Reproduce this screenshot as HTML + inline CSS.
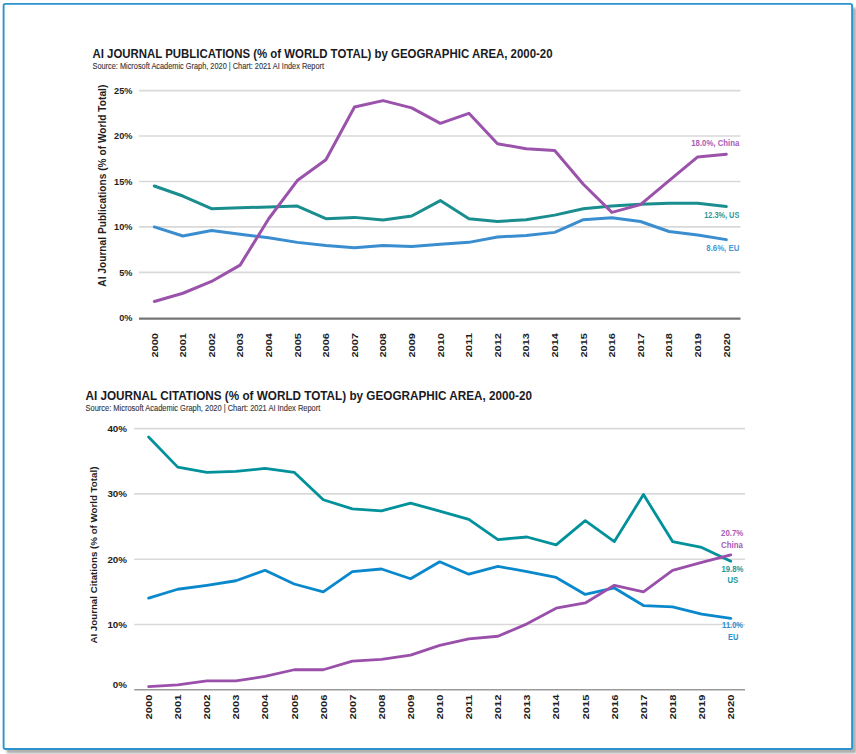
<!DOCTYPE html>
<html><head><meta charset="utf-8"><title>AI Journal Publications and Citations</title>
<style>
html,body{margin:0;padding:0;background:#ffffff;}
body{width:856px;height:754px;overflow:hidden;}
svg{display:block;font-family:"Liberation Sans", sans-serif;}
</style></head><body>
<svg width="856" height="754" viewBox="0 0 856 754">
<defs><filter id="blur" x="-5%" y="-5%" width="110%" height="110%"><feGaussianBlur stdDeviation="1.2"/></filter></defs>
<rect x="6.5" y="7.5" width="850" height="746" rx="2" fill="#b0b0b0" filter="url(#blur)"/>
<rect x="3.6" y="3.9" width="848.5" height="745.1" rx="1.8" fill="#ffffff" stroke="#2c93ce" stroke-width="1.9"/>
<text x="92.5" y="57.7" font-size="13" font-weight="bold" fill="#1a1a24" textLength="460" lengthAdjust="spacingAndGlyphs">AI JOURNAL PUBLICATIONS (% of WORLD TOTAL) by GEOGRAPHIC AREA, 2000-20</text>
<text x="92.5" y="69" font-size="8.9" fill="#34343c" stroke="#34343c" stroke-width="0.12" textLength="231.5" lengthAdjust="spacingAndGlyphs">Source: Microsoft Academic Graph, 2020 | Chart: 2021 AI Index Report</text>
<line x1="139" y1="272.36" x2="740.5" y2="272.36" stroke="#d9d9d9" stroke-width="1.6"/>
<line x1="139" y1="226.92" x2="740.5" y2="226.92" stroke="#d9d9d9" stroke-width="1.6"/>
<line x1="139" y1="181.48" x2="740.5" y2="181.48" stroke="#d9d9d9" stroke-width="1.6"/>
<line x1="139" y1="136.04" x2="740.5" y2="136.04" stroke="#d9d9d9" stroke-width="1.6"/>
<line x1="139" y1="90.60" x2="740.5" y2="90.60" stroke="#d9d9d9" stroke-width="1.6"/>
<line x1="139" y1="318.70" x2="740.5" y2="318.70" stroke="#757575" stroke-width="2.2"/>
<text x="132.5" y="321.11" text-anchor="end" font-size="9.2" font-weight="bold" fill="#1e1e1e">0%</text>
<text x="132.5" y="275.67" text-anchor="end" font-size="9.2" font-weight="bold" fill="#1e1e1e">5%</text>
<text x="132.5" y="230.23" text-anchor="end" font-size="9.2" font-weight="bold" fill="#1e1e1e">10%</text>
<text x="132.5" y="184.79" text-anchor="end" font-size="9.2" font-weight="bold" fill="#1e1e1e">15%</text>
<text x="132.5" y="139.35" text-anchor="end" font-size="9.2" font-weight="bold" fill="#1e1e1e">20%</text>
<text x="132.5" y="93.91" text-anchor="end" font-size="9.2" font-weight="bold" fill="#1e1e1e">25%</text>
<text transform="translate(106,286.7) rotate(-90)" font-size="10" font-weight="bold" fill="#1e1e1e" textLength="202" lengthAdjust="spacingAndGlyphs">AI Journal Publications (% of World Total)</text>
<text transform="translate(157.65,333.00) rotate(-90)" x="0" y="0" text-anchor="end" font-size="9.3" font-weight="bold" fill="#1e1e1e" textLength="24.5" lengthAdjust="spacingAndGlyphs">2000</text>
<text transform="translate(186.25,333.00) rotate(-90)" x="0" y="0" text-anchor="end" font-size="9.3" font-weight="bold" fill="#1e1e1e" textLength="24.5" lengthAdjust="spacingAndGlyphs">2001</text>
<text transform="translate(214.85,333.00) rotate(-90)" x="0" y="0" text-anchor="end" font-size="9.3" font-weight="bold" fill="#1e1e1e" textLength="24.5" lengthAdjust="spacingAndGlyphs">2002</text>
<text transform="translate(243.45,333.00) rotate(-90)" x="0" y="0" text-anchor="end" font-size="9.3" font-weight="bold" fill="#1e1e1e" textLength="24.5" lengthAdjust="spacingAndGlyphs">2003</text>
<text transform="translate(272.05,333.00) rotate(-90)" x="0" y="0" text-anchor="end" font-size="9.3" font-weight="bold" fill="#1e1e1e" textLength="24.5" lengthAdjust="spacingAndGlyphs">2004</text>
<text transform="translate(300.65,333.00) rotate(-90)" x="0" y="0" text-anchor="end" font-size="9.3" font-weight="bold" fill="#1e1e1e" textLength="24.5" lengthAdjust="spacingAndGlyphs">2005</text>
<text transform="translate(329.25,333.00) rotate(-90)" x="0" y="0" text-anchor="end" font-size="9.3" font-weight="bold" fill="#1e1e1e" textLength="24.5" lengthAdjust="spacingAndGlyphs">2006</text>
<text transform="translate(357.85,333.00) rotate(-90)" x="0" y="0" text-anchor="end" font-size="9.3" font-weight="bold" fill="#1e1e1e" textLength="24.5" lengthAdjust="spacingAndGlyphs">2007</text>
<text transform="translate(386.45,333.00) rotate(-90)" x="0" y="0" text-anchor="end" font-size="9.3" font-weight="bold" fill="#1e1e1e" textLength="24.5" lengthAdjust="spacingAndGlyphs">2008</text>
<text transform="translate(415.05,333.00) rotate(-90)" x="0" y="0" text-anchor="end" font-size="9.3" font-weight="bold" fill="#1e1e1e" textLength="24.5" lengthAdjust="spacingAndGlyphs">2009</text>
<text transform="translate(443.65,333.00) rotate(-90)" x="0" y="0" text-anchor="end" font-size="9.3" font-weight="bold" fill="#1e1e1e" textLength="24.5" lengthAdjust="spacingAndGlyphs">2010</text>
<text transform="translate(472.25,333.00) rotate(-90)" x="0" y="0" text-anchor="end" font-size="9.3" font-weight="bold" fill="#1e1e1e" textLength="24.5" lengthAdjust="spacingAndGlyphs">2011</text>
<text transform="translate(500.85,333.00) rotate(-90)" x="0" y="0" text-anchor="end" font-size="9.3" font-weight="bold" fill="#1e1e1e" textLength="24.5" lengthAdjust="spacingAndGlyphs">2012</text>
<text transform="translate(529.45,333.00) rotate(-90)" x="0" y="0" text-anchor="end" font-size="9.3" font-weight="bold" fill="#1e1e1e" textLength="24.5" lengthAdjust="spacingAndGlyphs">2013</text>
<text transform="translate(558.05,333.00) rotate(-90)" x="0" y="0" text-anchor="end" font-size="9.3" font-weight="bold" fill="#1e1e1e" textLength="24.5" lengthAdjust="spacingAndGlyphs">2014</text>
<text transform="translate(586.65,333.00) rotate(-90)" x="0" y="0" text-anchor="end" font-size="9.3" font-weight="bold" fill="#1e1e1e" textLength="24.5" lengthAdjust="spacingAndGlyphs">2015</text>
<text transform="translate(615.25,333.00) rotate(-90)" x="0" y="0" text-anchor="end" font-size="9.3" font-weight="bold" fill="#1e1e1e" textLength="24.5" lengthAdjust="spacingAndGlyphs">2016</text>
<text transform="translate(643.85,333.00) rotate(-90)" x="0" y="0" text-anchor="end" font-size="9.3" font-weight="bold" fill="#1e1e1e" textLength="24.5" lengthAdjust="spacingAndGlyphs">2017</text>
<text transform="translate(672.45,333.00) rotate(-90)" x="0" y="0" text-anchor="end" font-size="9.3" font-weight="bold" fill="#1e1e1e" textLength="24.5" lengthAdjust="spacingAndGlyphs">2018</text>
<text transform="translate(701.05,333.00) rotate(-90)" x="0" y="0" text-anchor="end" font-size="9.3" font-weight="bold" fill="#1e1e1e" textLength="24.5" lengthAdjust="spacingAndGlyphs">2019</text>
<text transform="translate(729.65,333.00) rotate(-90)" x="0" y="0" text-anchor="end" font-size="9.3" font-weight="bold" fill="#1e1e1e" textLength="24.5" lengthAdjust="spacingAndGlyphs">2020</text>
<polyline fill="none" stroke="#1a8e8e" stroke-width="3.0" stroke-linejoin="round" stroke-linecap="round" points="154.30,186.02 182.90,196.02 211.50,208.74 240.10,207.84 268.70,206.93 297.30,206.02 325.90,218.74 354.50,217.38 383.10,220.01 411.70,216.01 440.30,200.56 468.90,218.74 497.50,221.47 526.10,219.65 554.70,215.11 583.30,208.74 611.90,206.02 640.50,204.20 669.10,203.29 697.70,203.29 726.30,206.47"/>
<polyline fill="none" stroke="#3a8ed0" stroke-width="3.0" stroke-linejoin="round" stroke-linecap="round" points="154.30,226.92 182.90,236.01 211.50,230.56 240.10,234.19 268.70,237.83 297.30,242.37 325.90,245.55 354.50,247.82 383.10,245.55 411.70,246.46 440.30,244.19 468.90,242.37 497.50,236.92 526.10,235.55 554.70,232.37 583.30,219.65 611.90,217.83 640.50,221.47 669.10,231.46 697.70,235.10 726.30,239.64"/>
<polyline fill="none" stroke="#9a52aa" stroke-width="3.0" stroke-linejoin="round" stroke-linecap="round" points="154.30,301.44 182.90,293.26 211.50,281.45 240.10,265.09 268.70,218.74 297.30,180.57 325.90,159.67 354.50,106.96 383.10,100.60 411.70,107.87 440.30,123.32 468.90,113.32 497.50,143.76 526.10,148.76 554.70,150.58 583.30,184.21 611.90,212.38 640.50,204.65 669.10,180.57 697.70,156.94 726.30,154.22"/>
<text x="739.3" y="145.9" text-anchor="end" font-size="8.6" font-weight="bold" fill="#a85cb8" textLength="48" lengthAdjust="spacingAndGlyphs">18.0%, China</text>
<text x="739.3" y="217.7" text-anchor="end" font-size="8.6" font-weight="bold" fill="#2a9a9a" textLength="35" lengthAdjust="spacingAndGlyphs">12.3%, US</text>
<text x="739.3" y="250.6" text-anchor="end" font-size="8.6" font-weight="bold" fill="#4a98d6" textLength="33" lengthAdjust="spacingAndGlyphs">8.6%, EU</text>
<text x="85.5" y="400" font-size="12.6" font-weight="bold" fill="#1a1a24" textLength="446.5" lengthAdjust="spacingAndGlyphs">AI JOURNAL CITATIONS (% of WORLD TOTAL) by GEOGRAPHIC AREA, 2000-20</text>
<text x="85.5" y="410.8" font-size="8.9" fill="#34343c" stroke="#34343c" stroke-width="0.12" textLength="234.8" lengthAdjust="spacingAndGlyphs">Source: Microsoft Academic Graph, 2020 | Chart: 2021 AI Index Report</text>
<line x1="134.2" y1="624.50" x2="745" y2="624.50" stroke="#d9d9d9" stroke-width="1.6"/>
<line x1="134.2" y1="559.20" x2="745" y2="559.20" stroke="#d9d9d9" stroke-width="1.6"/>
<line x1="134.2" y1="493.90" x2="745" y2="493.90" stroke="#d9d9d9" stroke-width="1.6"/>
<line x1="134.2" y1="428.60" x2="745" y2="428.60" stroke="#d9d9d9" stroke-width="1.6"/>
<line x1="134.2" y1="689.80" x2="745" y2="689.80" stroke="#9a9a9a" stroke-width="1.6"/>
<text x="127" y="688.33" text-anchor="end" font-size="9.8" font-weight="bold" fill="#1e1e1e">0%</text>
<text x="127" y="628.03" text-anchor="end" font-size="9.8" font-weight="bold" fill="#1e1e1e">10%</text>
<text x="127" y="562.73" text-anchor="end" font-size="9.8" font-weight="bold" fill="#1e1e1e">20%</text>
<text x="127" y="497.43" text-anchor="end" font-size="9.8" font-weight="bold" fill="#1e1e1e">30%</text>
<text x="127" y="432.13" text-anchor="end" font-size="9.8" font-weight="bold" fill="#1e1e1e">40%</text>
<text transform="translate(97.3,643.6) rotate(-90)" font-size="9.6" font-weight="bold" fill="#1e1e1e" textLength="177" lengthAdjust="spacingAndGlyphs">AI Journal Citations (% of World Total)</text>
<text transform="translate(151.95,694.60) rotate(-90)" x="0" y="0" text-anchor="end" font-size="9.3" font-weight="bold" fill="#1e1e1e" textLength="24.8" lengthAdjust="spacingAndGlyphs">2000</text>
<text transform="translate(181.06,694.60) rotate(-90)" x="0" y="0" text-anchor="end" font-size="9.3" font-weight="bold" fill="#1e1e1e" textLength="24.8" lengthAdjust="spacingAndGlyphs">2001</text>
<text transform="translate(210.17,694.60) rotate(-90)" x="0" y="0" text-anchor="end" font-size="9.3" font-weight="bold" fill="#1e1e1e" textLength="24.8" lengthAdjust="spacingAndGlyphs">2002</text>
<text transform="translate(239.28,694.60) rotate(-90)" x="0" y="0" text-anchor="end" font-size="9.3" font-weight="bold" fill="#1e1e1e" textLength="24.8" lengthAdjust="spacingAndGlyphs">2003</text>
<text transform="translate(268.39,694.60) rotate(-90)" x="0" y="0" text-anchor="end" font-size="9.3" font-weight="bold" fill="#1e1e1e" textLength="24.8" lengthAdjust="spacingAndGlyphs">2004</text>
<text transform="translate(297.50,694.60) rotate(-90)" x="0" y="0" text-anchor="end" font-size="9.3" font-weight="bold" fill="#1e1e1e" textLength="24.8" lengthAdjust="spacingAndGlyphs">2005</text>
<text transform="translate(326.61,694.60) rotate(-90)" x="0" y="0" text-anchor="end" font-size="9.3" font-weight="bold" fill="#1e1e1e" textLength="24.8" lengthAdjust="spacingAndGlyphs">2006</text>
<text transform="translate(355.72,694.60) rotate(-90)" x="0" y="0" text-anchor="end" font-size="9.3" font-weight="bold" fill="#1e1e1e" textLength="24.8" lengthAdjust="spacingAndGlyphs">2007</text>
<text transform="translate(384.83,694.60) rotate(-90)" x="0" y="0" text-anchor="end" font-size="9.3" font-weight="bold" fill="#1e1e1e" textLength="24.8" lengthAdjust="spacingAndGlyphs">2008</text>
<text transform="translate(413.94,694.60) rotate(-90)" x="0" y="0" text-anchor="end" font-size="9.3" font-weight="bold" fill="#1e1e1e" textLength="24.8" lengthAdjust="spacingAndGlyphs">2009</text>
<text transform="translate(443.05,694.60) rotate(-90)" x="0" y="0" text-anchor="end" font-size="9.3" font-weight="bold" fill="#1e1e1e" textLength="24.8" lengthAdjust="spacingAndGlyphs">2010</text>
<text transform="translate(472.16,694.60) rotate(-90)" x="0" y="0" text-anchor="end" font-size="9.3" font-weight="bold" fill="#1e1e1e" textLength="24.8" lengthAdjust="spacingAndGlyphs">2011</text>
<text transform="translate(501.27,694.60) rotate(-90)" x="0" y="0" text-anchor="end" font-size="9.3" font-weight="bold" fill="#1e1e1e" textLength="24.8" lengthAdjust="spacingAndGlyphs">2012</text>
<text transform="translate(530.38,694.60) rotate(-90)" x="0" y="0" text-anchor="end" font-size="9.3" font-weight="bold" fill="#1e1e1e" textLength="24.8" lengthAdjust="spacingAndGlyphs">2013</text>
<text transform="translate(559.49,694.60) rotate(-90)" x="0" y="0" text-anchor="end" font-size="9.3" font-weight="bold" fill="#1e1e1e" textLength="24.8" lengthAdjust="spacingAndGlyphs">2014</text>
<text transform="translate(588.60,694.60) rotate(-90)" x="0" y="0" text-anchor="end" font-size="9.3" font-weight="bold" fill="#1e1e1e" textLength="24.8" lengthAdjust="spacingAndGlyphs">2015</text>
<text transform="translate(617.71,694.60) rotate(-90)" x="0" y="0" text-anchor="end" font-size="9.3" font-weight="bold" fill="#1e1e1e" textLength="24.8" lengthAdjust="spacingAndGlyphs">2016</text>
<text transform="translate(646.82,694.60) rotate(-90)" x="0" y="0" text-anchor="end" font-size="9.3" font-weight="bold" fill="#1e1e1e" textLength="24.8" lengthAdjust="spacingAndGlyphs">2017</text>
<text transform="translate(675.93,694.60) rotate(-90)" x="0" y="0" text-anchor="end" font-size="9.3" font-weight="bold" fill="#1e1e1e" textLength="24.8" lengthAdjust="spacingAndGlyphs">2018</text>
<text transform="translate(705.04,694.60) rotate(-90)" x="0" y="0" text-anchor="end" font-size="9.3" font-weight="bold" fill="#1e1e1e" textLength="24.8" lengthAdjust="spacingAndGlyphs">2019</text>
<text transform="translate(734.15,694.60) rotate(-90)" x="0" y="0" text-anchor="end" font-size="9.3" font-weight="bold" fill="#1e1e1e" textLength="24.8" lengthAdjust="spacingAndGlyphs">2020</text>
<polyline fill="none" stroke="#00919a" stroke-width="2.8" stroke-linejoin="round" stroke-linecap="round" points="148.60,437.09 177.71,467.13 206.82,472.35 235.93,471.37 265.04,468.43 294.15,472.35 323.26,499.78 352.37,508.92 381.48,510.88 410.59,503.04 439.70,511.20 468.81,519.37 497.92,539.61 527.03,537.00 556.14,544.83 585.25,520.67 614.36,541.57 643.47,494.55 672.58,541.57 701.69,547.45 730.80,561.16"/>
<polyline fill="none" stroke="#0a88cc" stroke-width="2.8" stroke-linejoin="round" stroke-linecap="round" points="148.60,598.05 177.71,589.24 206.82,585.32 235.93,580.75 265.04,570.30 294.15,584.01 323.26,591.85 352.37,571.61 381.48,569.00 410.59,578.79 439.70,561.81 468.81,574.22 497.92,566.38 527.03,571.61 556.14,577.48 585.25,594.46 614.36,587.93 643.47,605.56 672.58,606.87 701.69,614.05 730.80,618.30"/>
<polyline fill="none" stroke="#9a50aa" stroke-width="2.8" stroke-linejoin="round" stroke-linecap="round" points="148.60,686.53 177.71,684.97 206.82,680.92 235.93,680.92 265.04,676.48 294.15,669.75 323.26,669.75 352.37,661.07 381.48,659.37 410.59,655.19 439.70,645.40 468.81,638.87 497.92,636.25 527.03,623.85 556.14,608.17 585.25,602.95 614.36,585.32 643.47,591.85 672.58,570.30 701.69,562.47 730.80,554.96"/>
<text x="732.2" y="536.2" text-anchor="middle" font-size="8.6" font-weight="bold" fill="#a85cb8" textLength="22.4" lengthAdjust="spacingAndGlyphs">20.7%</text>
<text x="732.0" y="547.6" text-anchor="middle" font-size="8.6" font-weight="bold" fill="#a85cb8" textLength="21.9" lengthAdjust="spacingAndGlyphs">China</text>
<text x="732.4" y="572.0" text-anchor="middle" font-size="8.6" font-weight="bold" fill="#1a9a9e" textLength="22.0" lengthAdjust="spacingAndGlyphs">19.8%</text>
<text x="732.8" y="583.0" text-anchor="middle" font-size="8.6" font-weight="bold" fill="#1a9a9e" textLength="10.7" lengthAdjust="spacingAndGlyphs">US</text>
<text x="732.6" y="628.3" text-anchor="middle" font-size="8.6" font-weight="bold" fill="#2a90d0" textLength="21.0" lengthAdjust="spacingAndGlyphs">11.0%</text>
<text x="733.2" y="640.0" text-anchor="middle" font-size="8.6" font-weight="bold" fill="#2a90d0" textLength="10.3" lengthAdjust="spacingAndGlyphs">EU</text>
</svg>
</body></html>
